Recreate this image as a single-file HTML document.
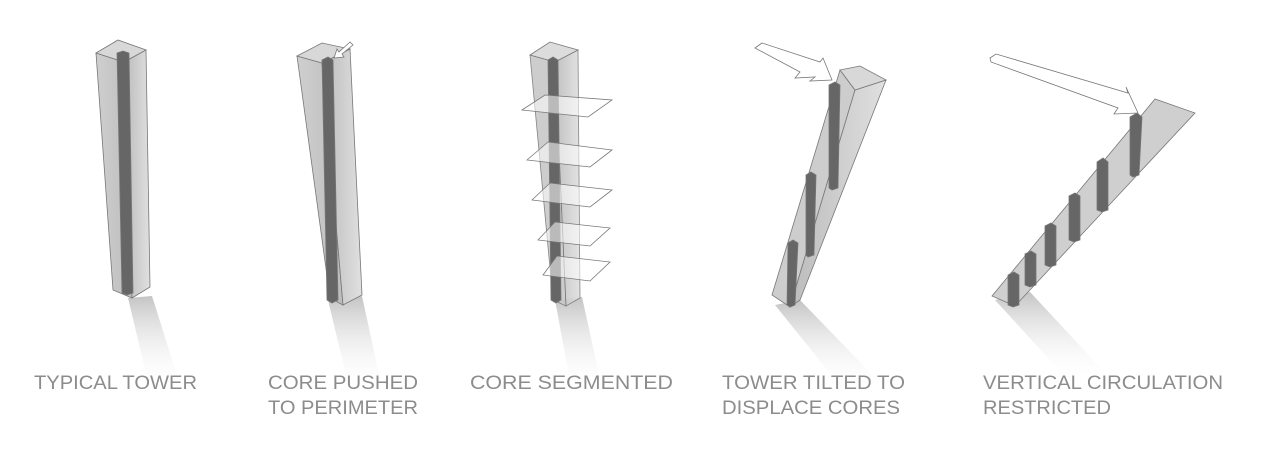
<!DOCTYPE html>
<html><head><meta charset="utf-8"><style>
html,body{margin:0;padding:0;background:#fff;width:1280px;height:459px;overflow:hidden}
svg{display:block}
text{font-family:"Liberation Sans",sans-serif;font-size:19px;fill:#8c8c8c}
</style></head><body>
<svg width="1280" height="459" viewBox="0 0 1280 459">
<defs>
<linearGradient id="sh" x1="0" y1="0" x2="0" y2="1">
<stop offset="0" stop-color="#c4c4c4"/><stop offset="1" stop-color="#fff" stop-opacity="0"/></linearGradient>
<linearGradient id="fl" x1="0" y1="0" x2="1" y2="0">
<stop offset="0" stop-color="#cfcfcf"/><stop offset="1" stop-color="#bdbdbd"/></linearGradient>
<linearGradient id="fr" x1="0" y1="0" x2="1" y2="0">
<stop offset="0" stop-color="#bbbbbb"/><stop offset="1" stop-color="#e0e0e0"/></linearGradient>
</defs>
<g stroke="none">
<polygon points="128,298 152,296 180,385 150,390" fill="url(#sh)"/>
<polygon points="328,300 362,296 382,388 350,392" fill="url(#sh)"/>
<polygon points="555,300 582,297 602,388 572,392" fill="url(#sh)"/>
<polygon points="775,305 800,300 885,388 845,392" fill="url(#sh)"/>
<polygon points="995,300 1030,292 1110,378 1070,382" fill="url(#sh)"/>
</g>
<!-- tower 1 -->
<g stroke="#777" stroke-width="0.8">
<polygon points="96,53 113,290 132,298 124,62" fill="url(#fl)"/>
<polygon points="124,62 132,298 150,287 146,50" fill="url(#fr)"/>
<polygon points="96,53 118,40 146,50 124,62" fill="#d8d8d8"/>
<polygon points="117,53 123,51 129,53 133,293 127,295 122,293" fill="#666"/>
</g>
<!-- tower 2 -->
<g stroke="#777" stroke-width="0.8">
<polygon points="297,56 330,298 343,305 322,63" fill="url(#fl)"/>
<polygon points="322,63 343,305 362,295 350,49" fill="url(#fr)"/>
<polygon points="297,56 322,43 350,49 322,63" fill="#d8d8d8"/>
<polygon points="322,60 328,57 333,60 338,300 332,303 327,300" fill="#666"/>
<polygon points="334,58 337,49 339,52 350,42 353,45 342,54 344,57" fill="#fff"/>
</g>
<!-- tower 3 -->
<g stroke="#777" stroke-width="0.8">
<polygon points="530,55 553,300 566,306 555,62" fill="#c8c8c8" opacity="0.9"/>
<polygon points="555,62 566,306 580,298 578,50" fill="url(#fr)" opacity="0.9"/>
<polygon points="530,55 550,42 578,50 555,62" fill="#dcdcdc"/>
<polygon points="548,60 553,57 558,60 561,300 556,303 551,300" fill="#666"/>
<g fill="#fff" fill-opacity="0.55">
<polygon points="522,110 545,95 612,100 588,117"/>
<polygon points="527,160 548,142 612,150 590,167"/>
<polygon points="532,200 550,183 612,190 590,207"/>
<polygon points="538,240 555,222 610,228 590,246"/>
<polygon points="543,275 557,256 610,262 590,281"/>
</g>
</g>
<!-- tower 4 -->
<g stroke="#777" stroke-width="0.8">
<polygon points="772,295 840,70 855,90 790,307" fill="#cdcdcd"/>
<polygon points="790,307 855,90 886,80 800,300" fill="url(#fr)"/>
<polygon points="840,70 860,66 886,80 855,90" fill="#d8d8d8"/>
<polygon points="829,85 835,82 840,85 838,188 832,190 829,188" fill="#666"/>
<polygon points="806,175 811,172 816,175 814,255 808,257 806,255" fill="#666"/>
<polygon points="788,243 793,240 798,243 795,305 790,307 787,305" fill="#666"/>
<polygon points="755,48 762,43 820,62 823,58 832,80 810,81 815,77 795,78 800,72" fill="#fff"/>
</g>
<!-- tower 5 -->
<g stroke="#777" stroke-width="0.8">
<polygon points="992,296 1155,99 1195,113 1015,306" fill="#cfcfcf"/>
<polygon points="1008,275 1014,272 1019,275 1019,305 1013,307 1008,305" fill="#666"/>
<polygon points="1025,254 1031,251 1036,254 1036,285 1030,287 1025,285" fill="#666"/>
<polygon points="1045,226 1051,223 1056,226 1056,265 1050,267 1045,265" fill="#666"/>
<polygon points="1069,196 1075,193 1080,196 1080,240 1074,242 1069,240" fill="#666"/>
<polygon points="1097,162 1103,158 1108,162 1108,210 1102,212 1097,210" fill="#666"/>
<polygon points="1130,117 1137,113 1142,117 1139,175 1133,177 1130,175" fill="#666"/>
<polygon points="990,58 996,54 1128,93 1126,87 1138,113 1114,114 1118,108 991,62" fill="#fff"/>
</g>
<!-- labels -->
<text x="34" y="389" textLength="163" lengthAdjust="spacingAndGlyphs">TYPICAL TOWER</text>
<text x="268" y="389" textLength="150" lengthAdjust="spacingAndGlyphs">CORE PUSHED</text>
<text x="268" y="414" textLength="150" lengthAdjust="spacingAndGlyphs">TO PERIMETER</text>
<text x="470" y="389" textLength="203" lengthAdjust="spacingAndGlyphs">CORE SEGMENTED</text>
<text x="722" y="389" textLength="183" lengthAdjust="spacingAndGlyphs">TOWER TILTED TO</text>
<text x="722" y="414" textLength="178" lengthAdjust="spacingAndGlyphs">DISPLACE CORES</text>
<text x="983" y="389" textLength="240" lengthAdjust="spacingAndGlyphs">VERTICAL CIRCULATION</text>
<text x="983" y="414" textLength="128" lengthAdjust="spacingAndGlyphs">RESTRICTED</text>
</svg>
</body></html>
